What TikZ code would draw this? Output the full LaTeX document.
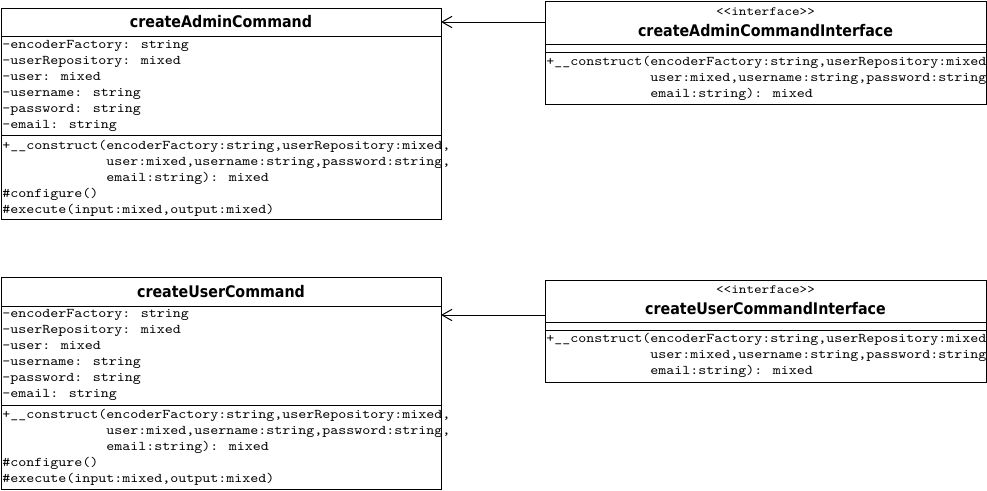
\documentclass[tikz,border=0pt]{standalone}
\usepackage{fontspec}
\newfontfamily\umltitlefont[FakeStretch=0.89]{DejaVu Sans Bold}
\newfontfamily\umlmonofont[FakeStretch=1.143]{lmmono10-regular.otf}
\usetikzlibrary{arrows.meta}
\definecolor{UMLLine}{HTML}{000000}
\definecolor{UMLPaper}{HTML}{FFFFFF}
\tikzset{
  umlbox/.style={draw=UMLLine,line width=.75pt,anchor=north west,inner sep=0pt,outer sep=0pt},
  umltitle/.style={font=\umltitlefont\fontsize{12}{14}\selectfont,inner sep=0pt},
  umlstereo/.style={font=\umlmonofont\fontsize{9.5}{11}\selectfont,inner sep=0pt},
  umlmember/.style={anchor=mid west,font=\umlmonofont\fontsize{10}{12}\selectfont,inner sep=0pt},
  umlsep/.style={draw=UMLLine,line width=.75pt},
  realize/.style={draw=UMLLine,line width=.75pt,-{Straight Barb[length=7.5pt,width=8.5pt]}}
}

\begin{document}
\begin{tikzpicture}[x=0.75pt,y=-0.75pt]
\path[use as bounding box,fill=UMLPaper] (0,0) rectangle (987,490);
% createAdminCommand
\node[umlbox,minimum width=330pt,minimum height=158.25pt] (admin) at (1,8) {};
\draw[umlsep] (admin.west |- 0,36) -- (admin.east |- 0,36);
\draw[umlsep] (admin.west |- 0,135) -- (admin.east |- 0,135);
\node[umltitle] (adminTitle) at (221,22) {createAdminCommand};
\foreach \m [count=\i from 0] in {-encoderFactory: string,-userRepository: mixed,-user: mixed,-username: string,-password: string,-email: string}
  \node[umlmember] (adminAttr\i) at (2,46+16*\i) {\m};
\foreach \m [count=\i from 0] in {{+\_\_construct(encoderFactory:string,userRepository:mixed,},{\phantom{+\_\_construct(}user:mixed,username:string,password:string,},{\phantom{+\_\_construct(}email:string): mixed},\#configure(),{\#execute(input:mixed,output:mixed)}}
  \node[umlmember] (adminOp\i) at (2,147+16*\i) {\m};
% createAdminCommandInterface
\node[umlbox,minimum width=330.75pt,minimum height=77.25pt] (adminIface) at (545,1) {};
\draw[umlsep] (adminIface.west |- 0,44) -- (adminIface.east |- 0,44);
\draw[umlsep] (adminIface.west |- 0,52) -- (adminIface.east |- 0,52);
\node[umlstereo] (adminStereo) at (765.5,12) {<{}<interface>{}>};
\node[umltitle] (adminIfaceTitle) at (765.5,31) {createAdminCommandInterface};
\foreach \m [count=\i from 0] in {{+\_\_construct(encoderFactory:string,userRepository:mixed,},{\phantom{+\_\_construct(}user:mixed,username:string,password:string,},{\phantom{+\_\_construct(}email:string): mixed}}
  \node[umlmember] (adminIfaceOp\i) at (546,63+16*\i) {\m};
\draw[realize] (adminIface.west |- adminTitle) -- (admin.east |- adminTitle);
% createUserCommand
\node[umlbox,minimum width=330pt,minimum height=159pt] (user) at (1,277) {};
\draw[umlsep] (user.west |- 0,306) -- (user.east |- 0,306);
\draw[umlsep] (user.west |- 0,405) -- (user.east |- 0,405);
\node[umltitle] (userTitle) at (221,292) {createUserCommand};
\foreach \m [count=\i from 0] in {-encoderFactory: string,-userRepository: mixed,-user: mixed,-username: string,-password: string,-email: string}
  \node[umlmember] (userAttr\i) at (2,315+16*\i) {\m};
\foreach \m [count=\i from 0] in {{+\_\_construct(encoderFactory:string,userRepository:mixed,},{\phantom{+\_\_construct(}user:mixed,username:string,password:string,},{\phantom{+\_\_construct(}email:string): mixed},\#configure(),{\#execute(input:mixed,output:mixed)}}
  \node[umlmember] (userOp\i) at (2,416+16*\i) {\m};
% createUserCommandInterface
\node[umlbox,minimum width=330.75pt,minimum height=76.5pt] (userIface) at (545,280) {};
\draw[umlsep] (userIface.west |- 0,322) -- (userIface.east |- 0,322);
\draw[umlsep] (userIface.west |- 0,330) -- (userIface.east |- 0,330);
\node[umlstereo] (userStereo) at (765.5,290) {<{}<interface>{}>};
\node[umltitle] (userIfaceTitle) at (765.5,309) {createUserCommandInterface};
\foreach \m [count=\i from 0] in {{+\_\_construct(encoderFactory:string,userRepository:mixed,},{\phantom{+\_\_construct(}user:mixed,username:string,password:string,},{\phantom{+\_\_construct(}email:string): mixed}}
  \node[umlmember] (userIfaceOp\i) at (546,340+16*\i) {\m};
\draw[realize] (userIface.west |- userAttr0.mid) -- (user.east |- userAttr0.mid);
\end{tikzpicture}
\end{document}
